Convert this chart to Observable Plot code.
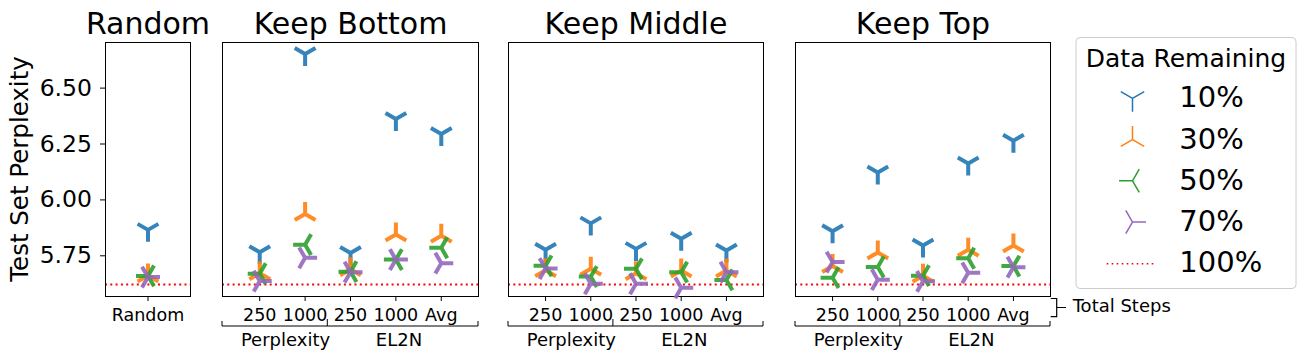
<!DOCTYPE html>
<html>
<head>
<meta charset="utf-8">
<script src="https://cdn.jsdelivr.net/npm/d3@7"></script>
<script src="https://cdn.jsdelivr.net/npm/@observablehq/plot@0.6"></script>
<style>
  html, body { margin: 0; padding: 0; background: #fff; }
  #root { position: relative; width: 1305px; height: 359px; overflow: hidden; font-family: "DejaVu Sans", sans-serif; }
  .panel { position: absolute; top: 0; }
  #overlay { position: absolute; left: 0; top: 0; pointer-events: none; }
</style>
</head>
<body>
<div id="root"></div>
<script>
// ---------------- data ----------------
const steps = ["250", "1000", "250", "1000", "Avg"];
const groupNames = ["Perplexity", "EL2N"];
const groupFirst = [0, 2];
const groupLast = [1, 4];
const groupBreaks = [1.5];
const levels = ["10%", "30%", "50%", "70%"];
const levelColors = ["#1f77b4", "#ff7f0e", "#2ca02c", "#9467bd"];
const fullDataLabel = "100%";
const fullDataPerplexity = [5.622];
const yTicks = [5.75, 6.0, 6.25, 6.5];
const randomLabel = ["Random"];

const random10 = [5.866];
const random30 = [5.662];
const random50 = [5.660];
const random70 = [5.655];

const bottom10 = [5.766, 6.653, 5.763, 6.362, 6.295];
const bottom30 = [5.672, 5.937, 5.690, 5.845, 5.840];
const bottom50 = [5.670, 5.800, 5.679, 5.733, 5.786];
const bottom70 = [5.637, 5.741, 5.677, 5.733, 5.717];

const middle10 = [5.777, 5.895, 5.781, 5.826, 5.774];
const middle30 = [5.685, 5.692, 5.672, 5.684, 5.684];
const middle50 = [5.705, 5.657, 5.692, 5.677, 5.642];
const middle70 = [5.693, 5.625, 5.625, 5.607, 5.677];

const top10 = [5.860, 6.123, 5.796, 6.163, 6.265];
const top30 = [5.704, 5.765, 5.661, 5.777, 5.796];
const top50 = [5.652, 5.700, 5.661, 5.739, 5.704];
const top70 = [5.722, 5.643, 5.636, 5.674, 5.699];

// ---------------- markers (matplotlib tri markers) ----------------
function triSymbol(arms) {
  return {
    draw(context, size) {
      const r = Math.sqrt(size / Math.PI);
      for (const [dx, dy] of arms) {
        context.moveTo(0, 0);
        context.lineTo(dx * r, dy * r);
      }
    }
  };
}
const s = Math.sqrt(3) / 2;
const triDown = triSymbol([[0, 1], [s, -0.5], [-s, -0.5]]);
const triUp = triSymbol([[0, -1], [s, 0.5], [-s, 0.5]]);
const triLeft = triSymbol([[-1, 0], [0.5, s], [0.5, -s]]);
const triRight = triSymbol([[1, 0], [-0.5, s], [-0.5, -s]]);
const levelSymbols = [triDown, triUp, triLeft, triRight];

// ---------------- layout ----------------
const H = 359, frameTop = 42, frameBottom = 296;
const yDomain = [5.568, 6.704];
const root = document.getElementById("root");

function markerMarks(seriesList) {
  return seriesList.map((vals, k) =>
    Plot.dot(vals.map((v, i) => ({i, v})), {
      x: "i", y: "v", r: 12, symbol: levelSymbols[k],
      stroke: levelColors[k], strokeWidth: 4, fill: "none", strokeOpacity: 0.9
    })
  );
}

function commonMarks(title) {
  return [
    Plot.ruleY(fullDataPerplexity, {stroke: "red", strokeWidth: 2, strokeDasharray: "2,3.3"}),
    Plot.frame({stroke: "black", strokeWidth: 1}),
    Plot.text([title], {frameAnchor: "top", lineAnchor: "bottom", dy: -8.5, fontSize: 30, fill: "black"})
  ];
}

const baseStyle = {fontFamily: "DejaVu Sans", fontSize: "17.5px", color: "black", background: "transparent", overflow: "visible"};

// Random panel (with y axis)
{
  const ml = 105, fw = 85, mr = 10;
  const plot = Plot.plot({
    width: ml + fw + mr, height: H,
    marginLeft: ml, marginRight: mr, marginTop: frameTop, marginBottom: H - frameBottom,
    style: baseStyle,
    x: {domain: [-1, 1]},
    y: {domain: yDomain},
    marks: [
      Plot.axisY({ticks: yTicks, tickFormat: d3.format(".2f"), tickSize: 5, tickPadding: 8.5, fontSize: 23.5, label: null}),
      Plot.axisX({ticks: [0], tickFormat: i => randomLabel[i], tickSize: 5, tickPadding: 7, fontSize: 17.5, label: null}),
      ...commonMarks("Random"),
      ...markerMarks([random10, random30, random50, random70])
    ]
  });
  plot.classList.add("panel");
  plot.style.left = "0px";
  root.appendChild(plot);
}

// Grouped panels
const panels = [
  {title: "Keep Bottom", left: 222, fw: 256, series: [bottom10, bottom30, bottom50, bottom70]},
  {title: "Keep Middle", left: 508, fw: 255, series: [middle10, middle30, middle50, middle70]},
  {title: "Keep Top", left: 795, fw: 255, series: [top10, top30, top50, top70]}
];
const xDomain = [-0.82, steps.length - 1 + 0.82];

for (const p of panels) {
  const ml = 15, mr = 15;
  const plot = Plot.plot({
    width: ml + p.fw + mr, height: H,
    marginLeft: ml, marginRight: mr, marginTop: frameTop, marginBottom: H - frameBottom,
    style: baseStyle,
    x: {domain: xDomain},
    y: {domain: yDomain, axis: null},
    marks: [
      Plot.axisX({ticks: d3.range(steps.length), tickFormat: i => steps[i], tickSize: 5, tickPadding: 7, fontSize: 17.5, label: null}),
      ...commonMarks(p.title),
      ...markerMarks(p.series)
    ]
  });
  plot.classList.add("panel");
  plot.style.left = (p.left - ml) + "px";
  root.appendChild(plot);

  // group bracket below the tick labels, positioned with the plot's x scale
  const sx = plot.scale("x");
  const g = d3.select(plot).append("g").attr("stroke", "black").attr("stroke-width", 1).attr("fill", "none");
  const yb = 326;
  const x0 = sx.apply(xDomain[0]), x1 = sx.apply(xDomain[1]);
  g.append("path").attr("d", `M${x0},${yb - 5}V${yb}H${x1}V${yb - 5}`);
  for (const b of groupBreaks) {
    const xb = sx.apply(b);
    g.append("path").attr("d", `M${xb},${yb - 7}V${yb}`);
  }
  const t = d3.select(plot).append("g").attr("font-size", 18).attr("font-family", "DejaVu Sans").attr("fill", "black").attr("text-anchor", "middle");
  groupNames.forEach((name, k) => {
    t.append("text").attr("x", sx.apply((groupFirst[k] + groupLast[k]) / 2 + 0.08)).attr("y", 346).text(name);
  });
}

// ---------------- overlay: y label, legend, "Total Steps" ----------------
const ov = d3.select(root).append("svg").attr("id", "overlay").attr("width", 1305).attr("height", H)
  .attr("font-family", "DejaVu Sans");

ov.append("text").attr("transform", `translate(28,${(frameTop + frameBottom) / 2}) rotate(-90)`)
  .attr("text-anchor", "middle").attr("font-size", 24.5).attr("fill", "black").text("Test Set Perplexity");

// legend
const lg = ov.append("g");
lg.append("rect").attr("x", 1076).attr("y", 37.5).attr("width", 220).attr("height", 251).attr("rx", 4)
  .attr("fill", "white").attr("fill-opacity", 0.8).attr("stroke", "#cccccc").attr("stroke-width", 1);
lg.append("text").attr("x", 1186).attr("y", 66.7).attr("text-anchor", "middle").attr("font-size", 25).attr("fill", "black").text("Data Remaining");
const rowBase = i => 107.3 + 41.25 * i;
levels.forEach((lab, k) => {
  const cy = rowBase(k) - 9;
  const path = d3.path();
  levelSymbols[k].draw(path, Math.PI * 13.5 * 13.5);
  lg.append("path").attr("d", path.toString()).attr("transform", `translate(1132.5,${cy})`)
    .attr("stroke", levelColors[k]).attr("stroke-width", 1.5).attr("fill", "none");
  lg.append("text").attr("x", 1179.3).attr("y", rowBase(k)).attr("font-size", 29).attr("fill", "black").text(lab);
});
{
  const cy = rowBase(4) - 8.5;
  lg.append("line").attr("x1", 1106.7).attr("x2", 1156.7).attr("y1", cy).attr("y2", cy)
    .attr("stroke", "red").attr("stroke-width", 1.6).attr("stroke-dasharray", "1.6,3.4");
  lg.append("text").attr("x", 1179.3).attr("y", rowBase(4)).attr("font-size", 29).attr("fill", "black").text(fullDataLabel);
}

// "Total Steps" annotation
const ts = ov.append("g");
ts.append("path").attr("d", "M1050.7,298.5H1056.7V316.7H1050.7M1056.7,307.5H1066")
  .attr("stroke", "black").attr("stroke-width", 1.2).attr("fill", "none");
ts.append("text").attr("x", 1072.7).attr("y", 311.7).attr("font-size", 18).attr("fill", "black").text("Total Steps");
</script>
</body>
</html>
